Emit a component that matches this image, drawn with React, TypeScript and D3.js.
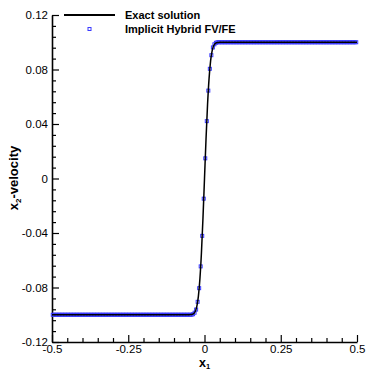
import React, {useEffect, useRef} from 'react'
import * as d3 from 'd3'

// x1 positions of the cell centres (left plateau, transition, right plateau)
const leftX = [
  -0.4975, -0.4925, -0.4875, -0.4825, -0.4775, -0.4725, -0.4675, -0.4625, -0.4575, -0.4525,
  -0.4475, -0.4425, -0.4375, -0.4325, -0.4275, -0.4225, -0.4175, -0.4125, -0.4075, -0.4025,
  -0.3975, -0.3925, -0.3875, -0.3825, -0.3775, -0.3725, -0.3675, -0.3625, -0.3575, -0.3525,
  -0.3475, -0.3425, -0.3375, -0.3325, -0.3275, -0.3225, -0.3175, -0.3125, -0.3075, -0.3025,
  -0.2975, -0.2925, -0.2875, -0.2825, -0.2775, -0.2725, -0.2675, -0.2625, -0.2575, -0.2525,
  -0.2475, -0.2425, -0.2375, -0.2325, -0.2275, -0.2225, -0.2175, -0.2125, -0.2075, -0.2025,
  -0.1975, -0.1925, -0.1875, -0.1825, -0.1775, -0.1725, -0.1675, -0.1625, -0.1575, -0.1525,
  -0.1475, -0.1425, -0.1375, -0.1325, -0.1275, -0.1225, -0.1175, -0.1125, -0.1075, -0.1025,
  -0.0975, -0.0925, -0.0875, -0.0825, -0.0775, -0.0725, -0.0675, -0.0625, -0.0575, -0.0525,
  -0.0475, -0.0425,
]
const leftV = [
  -0.1, -0.1, -0.1, -0.1, -0.1, -0.1, -0.1, -0.1, -0.1, -0.1,
  -0.1, -0.1, -0.1, -0.1, -0.1, -0.1, -0.1, -0.1, -0.1, -0.1,
  -0.1, -0.1, -0.1, -0.1, -0.1, -0.1, -0.1, -0.1, -0.1, -0.1,
  -0.1, -0.1, -0.1, -0.1, -0.1, -0.1, -0.1, -0.1, -0.1, -0.1,
  -0.1, -0.1, -0.1, -0.1, -0.1, -0.1, -0.1, -0.1, -0.1, -0.1,
  -0.1, -0.1, -0.1, -0.1, -0.1, -0.1, -0.1, -0.1, -0.1, -0.1,
  -0.1, -0.1, -0.1, -0.1, -0.1, -0.1, -0.1, -0.1, -0.1, -0.1,
  -0.1, -0.1, -0.1, -0.1, -0.1, -0.1, -0.1, -0.1, -0.1, -0.1,
  -0.1, -0.1, -0.1, -0.1, -0.1, -0.1, -0.1, -0.1, -0.1, -0.1,
  -0.1, -0.1,
]
const midX = [
  -0.0375, -0.0325, -0.0275, -0.0225, -0.0175, -0.0125, -0.0075, -0.0025,
  0.0025, 0.0075, 0.0125, 0.0175, 0.0225, 0.0275, 0.0325, 0.0375,
]
const midV = [
  -0.0996, -0.0985, -0.0962, -0.0905, -0.0805, -0.0645, -0.0421, -0.0148,
  0.0148, 0.0421, 0.0645, 0.0805, 0.0905, 0.0962, 0.0985, 0.0996,
]
const rightX = [
  0.0425, 0.0475,
  0.0525, 0.0575, 0.0625, 0.0675, 0.0725, 0.0775, 0.0825, 0.0875, 0.0925, 0.0975,
  0.1025, 0.1075, 0.1125, 0.1175, 0.1225, 0.1275, 0.1325, 0.1375, 0.1425, 0.1475,
  0.1525, 0.1575, 0.1625, 0.1675, 0.1725, 0.1775, 0.1825, 0.1875, 0.1925, 0.1975,
  0.2025, 0.2075, 0.2125, 0.2175, 0.2225, 0.2275, 0.2325, 0.2375, 0.2425, 0.2475,
  0.2525, 0.2575, 0.2625, 0.2675, 0.2725, 0.2775, 0.2825, 0.2875, 0.2925, 0.2975,
  0.3025, 0.3075, 0.3125, 0.3175, 0.3225, 0.3275, 0.3325, 0.3375, 0.3425, 0.3475,
  0.3525, 0.3575, 0.3625, 0.3675, 0.3725, 0.3775, 0.3825, 0.3875, 0.3925, 0.3975,
  0.4025, 0.4075, 0.4125, 0.4175, 0.4225, 0.4275, 0.4325, 0.4375, 0.4425, 0.4475,
  0.4525, 0.4575, 0.4625, 0.4675, 0.4725, 0.4775, 0.4825, 0.4875, 0.4925, 0.4975,
]
const rightV = [
  0.1, 0.1,
  0.1, 0.1, 0.1, 0.1, 0.1, 0.1, 0.1, 0.1, 0.1, 0.1,
  0.1, 0.1, 0.1, 0.1, 0.1, 0.1, 0.1, 0.1, 0.1, 0.1,
  0.1, 0.1, 0.1, 0.1, 0.1, 0.1, 0.1, 0.1, 0.1, 0.1,
  0.1, 0.1, 0.1, 0.1, 0.1, 0.1, 0.1, 0.1, 0.1, 0.1,
  0.1, 0.1, 0.1, 0.1, 0.1, 0.1, 0.1, 0.1, 0.1, 0.1,
  0.1, 0.1, 0.1, 0.1, 0.1, 0.1, 0.1, 0.1, 0.1, 0.1,
  0.1, 0.1, 0.1, 0.1, 0.1, 0.1, 0.1, 0.1, 0.1, 0.1,
  0.1, 0.1, 0.1, 0.1, 0.1, 0.1, 0.1, 0.1, 0.1, 0.1,
  0.1, 0.1, 0.1, 0.1, 0.1, 0.1, 0.1, 0.1, 0.1, 0.1,
]

// exact solution
const exactX = [-0.5, -0.06, -0.05, -0.045, -0.04, -0.035, -0.03, -0.025, -0.02, -0.015, -0.01, -0.005,
  0, 0.005, 0.01, 0.015, 0.02, 0.025, 0.03, 0.035, 0.04, 0.045, 0.05, 0.06, 0.5]
const exactV = [-0.1, -0.1, -0.09998, -0.0999, -0.0997, -0.0991, -0.0974, -0.0937, -0.0863, -0.0735, -0.0543, -0.029,
  0, 0.029, 0.0543, 0.0735, 0.0863, 0.0937, 0.0974, 0.0991, 0.0997, 0.0999, 0.09998, 0.1, 0.1]

const xTicks = [-0.5, -0.25, 0, 0.25, 0.5]
const xTickLabels = ['-0.5', '-0.25', '0', '0.25', '0.5']
const yTicks = [-0.12, -0.08, -0.04, 0, 0.04, 0.08, 0.12]
const yTickLabels = ['-0.12', '-0.08', '-0.04', '0', '0.04', '0.08', '0.12']

const font = '"Liberation Sans", Arial, sans-serif'
const blue = '#3a3aff'

const App = () => {
  const svgRef = useRef<SVGSVGElement>(null)

  useEffect(() => {
    const svg = d3.select(svgRef.current)
    svg.selectAll('*').remove()

    const x = d3.scaleLinear().domain([-0.5, 0.5]).range([52, 357])
    const y = d3.scaleLinear().domain([-0.12, 0.12]).range([342, 15])

    const xMinor = d3.range(-0.5, 0.5001, 0.05).filter(v => !xTicks.some(t => Math.abs(t - v) < 1e-9))
    const yMinor = d3.range(-0.12, 0.1201, 0.008).filter(v => !yTicks.some(t => Math.abs(t - v) < 1e-9))

    // minor ticks
    svg.append('g')
      .attr('transform', 'translate(0,342)')
      .call(d3.axisBottom(x).tickValues(xMinor).tickSize(-4).tickFormat(() => ''))
      .call(g => g.select('.domain').remove())
    svg.append('g')
      .attr('transform', 'translate(52,0)')
      .call(d3.axisLeft(y).tickValues(yMinor).tickSize(-4).tickFormat(() => ''))
      .call(g => g.select('.domain').remove())

    // major axes
    const xAxis = svg.append('g')
      .attr('transform', 'translate(0,342)')
      .call(d3.axisBottom(x).tickValues(xTicks).tickSize(-7).tickSizeOuter(0).tickPadding(3)
        .tickFormat((d, i) => xTickLabels[i]))
    const yAxis = svg.append('g')
      .attr('transform', 'translate(52,0)')
      .call(d3.axisLeft(y).tickValues(yTicks).tickSize(-7).tickSizeOuter(0).tickPadding(4)
        .tickFormat((d, i) => yTickLabels[i]))

    svg.selectAll('.tick line').attr('stroke', '#000').attr('stroke-width', 1.2)
    ;[xAxis, yAxis].forEach(g => {
      g.select('.domain').attr('stroke', '#000').attr('stroke-width', 1.6)
      g.selectAll('text').attr('font-family', font).attr('font-size', 11.5).attr('fill', '#000')
    })

    // points (drawn first so the exact line shows through)
    const pts = [
      ...leftX.map((v, i) => [v, leftV[i]]),
      ...midX.map((v, i) => [v, midV[i]]),
      ...rightX.map((v, i) => [v, rightV[i]]),
    ]
    const s = 3
    svg.append('g')
      .selectAll('rect')
      .data(pts)
      .join('rect')
      .attr('x', d => x(d[0]) - s / 2)
      .attr('y', d => y(d[1]) - s / 2)
      .attr('width', s)
      .attr('height', s)
      .attr('fill', 'none')
      .attr('stroke', blue)
      .attr('stroke-width', 1)

    const line = d3.line<number>()
      .x((d, i) => x(exactX[i]))
      .y(d => y(d))
      .curve(d3.curveMonotoneX)
    svg.append('path')
      .attr('d', line(exactV))
      .attr('fill', 'none')
      .attr('stroke', '#000')
      .attr('stroke-width', 1.5)

    // legend
    svg.append('line')
      .attr('x1', 64).attr('x2', 115).attr('y1', 15).attr('y2', 15)
      .attr('stroke', '#000').attr('stroke-width', 1.8)
    svg.append('rect')
      .attr('x', 89.5 - s / 2).attr('y', 29 - s / 2).attr('width', s).attr('height', s)
      .attr('fill', 'none').attr('stroke', blue).attr('stroke-width', 1)
    const leg = svg.append('g')
      .attr('font-family', font).attr('font-size', 11).attr('font-weight', 'bold')
    leg.append('text').attr('x', 125).attr('y', 19).text('Exact solution')
    leg.append('text').attr('x', 125).attr('y', 33).text('Implicit Hybrid FV/FE')

    // axis titles
    const xt = svg.append('text')
      .attr('x', 199).attr('y', 367)
      .attr('font-family', font).attr('font-size', 12.5).attr('font-weight', 'bold')
    xt.append('tspan').text('x')
    xt.append('tspan').attr('font-size', 7.5).attr('dy', 2).text('1')

    const yt = svg.append('text')
      .attr('transform', 'translate(18,178) rotate(-90)')
      .attr('text-anchor', 'middle')
      .attr('font-family', font).attr('font-size', 13).attr('font-weight', 'bold')
    yt.append('tspan').text('x')
    yt.append('tspan').attr('font-size', 8).attr('dy', 3).text('2')
    yt.append('tspan').attr('dy', -3).text('-velocity')
  }, [])

  return <svg ref={svgRef} width={371} height={371}
    style={{position: 'absolute', left: 0, top: 0, background: '#fff'}} />
}

export default App
